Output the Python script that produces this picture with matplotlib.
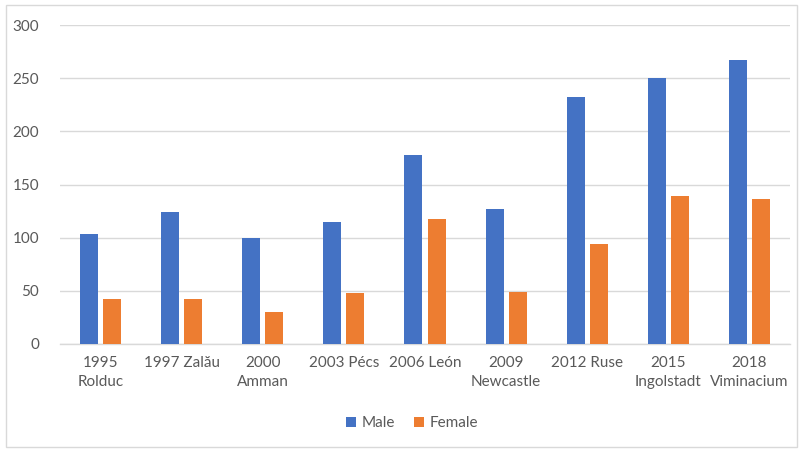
import matplotlib.pyplot as plt
import numpy as np
from matplotlib.patches import Rectangle

plt.rcParams['font.family'] = ['Lato', 'DejaVu Sans']

# Daten
categories = ['1995\nRolduc', '1997 Zalău', '2000\nAmman', '2003 Pécs', '2006 León',
              '2009\nNewcastle', '2012 Ruse', '2015\nIngolstadt', '2018\nViminacium']
male = [103, 124, 100, 115, 178, 127, 232, 250, 267]
female = [42, 42, 30, 48, 118, 49, 94, 139, 136]

text_col = '#595959'
grid_col = '#D9D9D9'

fig = plt.figure(figsize=(8, 4.5), dpi=100)
ax = fig.add_axes([0.075, 0.2356, 0.9125, 0.7088])

x = np.arange(len(categories))
w = 0.222
ax.bar(x - 0.142, male, width=w, color='#4472C4', label='Male', zorder=3)
ax.bar(x + 0.142, female, width=w, color='#ED7D31', label='Female', zorder=3)

ax.set_xlim(-0.5, len(categories) - 0.5)
ax.set_ylim(0, 300)
ax.set_yticks(range(0, 301, 50))
ax.set_xticks(x)
ax.set_xticklabels(categories, ha='center', multialignment='center', linespacing=1.45)
ax.tick_params(axis='both', length=0, labelsize=11, colors=text_col)
ax.tick_params(axis='x', pad=9)
ax.tick_params(axis='y', pad=15)

ax.grid(axis='y', color=grid_col, linewidth=1, zorder=0)
for s in ['top', 'right', 'left']:
    ax.spines[s].set_visible(False)
ax.spines['bottom'].set_color(grid_col)
ax.spines['bottom'].set_linewidth(1)

leg = fig.legend(loc='center', bbox_to_anchor=(0.515, 0.06), ncol=2, frameon=False,
                 fontsize=11, handlelength=0.65, handleheight=0.65, handletextpad=0.35,
                 columnspacing=1.3)
for t in leg.get_texts():
    t.set_color(text_col)

# Rahmen um das Diagramm
fig.patches.append(Rectangle((0.008, 0.006), 0.988, 0.984, transform=fig.transFigure,
                             fill=False, edgecolor='#D9D9D9', linewidth=1))

plt.savefig('out.png', dpi=100)
